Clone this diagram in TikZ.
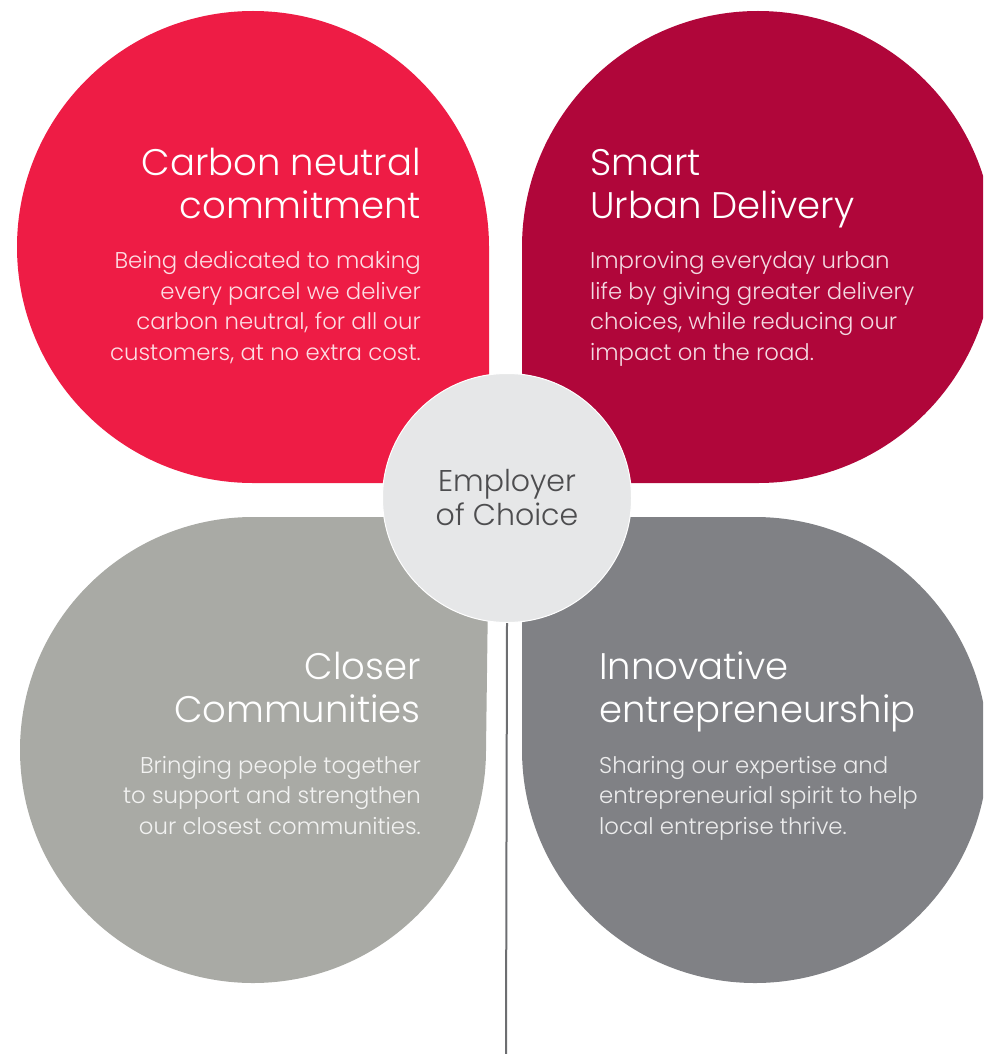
\documentclass[tikz,border=0pt]{standalone}
\usepackage{fontspec}
\setmainfont{Poppins}[UprightFont=* Light]
\newlength{\du}
\setlength{\du}{1\unitlength}
\definecolor{carbonred}{HTML}{EE1C45}
\definecolor{urbanred}{HTML}{B0063A}
\definecolor{closergrey}{HTML}{A9AAA5}
\definecolor{innovgrey}{HTML}{808185}
\definecolor{choicegrey}{HTML}{E6E7E8}
\definecolor{choicetext}{HTML}{4D4D4F}
\definecolor{stemgrey}{HTML}{6D6E71}
\tikzset{
  petal/.style={draw=none},
  headline/.style={text=white, inner sep=0pt, font=\fontsize{37}{42.5}\selectfont},
  blurb/.style={text=white, text opacity=0.85, inner sep=0pt, font=\fontsize{22.8}{30.5}\selectfont},
  hub/.style={circle, fill=choicegrey, draw=white, line width=1\du, minimum size=249\du, inner sep=0pt,
    text=choicetext, align=center, font=\fontsize{30}{34}\selectfont},
  stem/.style={draw=stemgrey, line width=2\du},
}

\begin{document}
\begin{tikzpicture}
\pgftransformxscale{1.000000}
\pgftransformyscale{-1.000000}
\useasboundingbox (0\du,0\du) rectangle (983\du,1054\du);
\clip (0\du,0\du) rectangle (983\du,1054\du);
% petals
\fill[petal, carbonred] (489\du,483\du) -- (489\du,247\du) arc[start angle=0, end angle=-270, radius=236\du] -- cycle;
\fill[petal, urbanred] (522\du,483\du) -- (522\du,247\du) arc[start angle=180, end angle=450, radius=236\du] -- cycle;
\fill[petal, closergrey] (489\du,517\du) -- (253\du,517\du) arc[start angle=-90, end angle=-360, radius=233\du] -- cycle;
\fill[petal, innovgrey] (522\du,517\du) -- (522\du,750\du) arc[start angle=180, end angle=-90, radius=233\du] -- cycle;
% setfont left to latex (base = last line)
\node[headline, anchor=base east, align=right] (carbonhead) at (421\du,218\du) {Carbon neutral\\commitment};
\node[blurb, anchor=base east, align=right] (carbonblurb) at (421\du,360\du) {Being dedicated to making\\every parcel we deliver\\carbon neutral, for all our\\customers, at no extra cost.};
\node[headline, anchor=base west, align=left] (urbanhead) at (590\du,218\du) {Smart\\Urban Delivery};
\node[blurb, anchor=base west, align=left] (urbanblurb) at (590\du,360\du) {Improving everyday urban\\life by giving greater delivery\\choices, while reducing our\\impact on the road.};
\node[headline, anchor=base east, align=right] (closerhead) at (421\du,722\du) {Closer\\Communities};
\node[blurb, anchor=base east, align=right] (closerblurb) at (421\du,834\du) {Bringing people together\\to support and strengthen\\our closest communities.};
\node[headline, anchor=base west, align=left] (innovhead) at (599\du,722\du) {Innovative\\entrepreneurship};
\node[blurb, anchor=base west, align=left] (innovblurb) at (599\du,834\du) {Sharing our expertise and\\entrepreneurial spirit to help\\local entreprise thrive.};
% hub and stem
\node[hub] (employer) at (507\du,498\du) {Employer\\of Choice};
\coordinate (stemend) at (506\du,1054\du);
\draw[stem] (employer.south) -- (stemend);
\end{tikzpicture}
\end{document}
